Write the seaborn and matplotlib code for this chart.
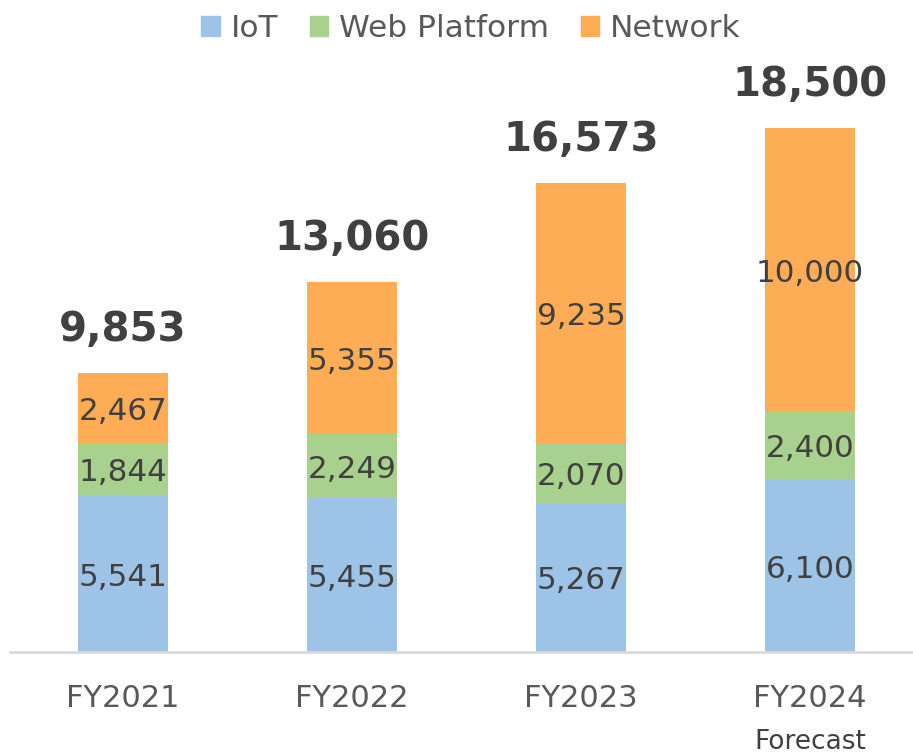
import pandas as pd
import matplotlib.pyplot as plt
import seaborn as sns
from matplotlib.patches import Patch

# --- data ---
years = ["FY2021", "FY2022", "FY2023", "FY2024"]
iot = [5541, 5455, 5267, 6100]
web = [1844, 2249, 2070, 2400]
network = [2467, 5355, 9235, 10000]
totals = [9853, 13060, 16573, 18500]

colors = {"IoT": "#9DC3E6", "Web Platform": "#A9D18E", "Network": "#FFAC56"}

df = pd.DataFrame({"year": years, "IoT": iot, "Web Platform": web, "Network": network})
df["cum_web"] = df["IoT"] + df["Web Platform"]
df["cum_net"] = df["cum_web"] + df["Network"]

sns.set_theme(style="white")
plt.rcParams["font.family"] = ["DejaVu Sans"]

fig = plt.figure(figsize=(9.13, 7.54), dpi=100)
ax = fig.add_axes([10 / 913, 102 / 754, 903 / 913, 592 / 754])

# stacked bars: draw cumulative heights from tallest to shortest
w = 0.393
sns.barplot(data=df, x="year", y="cum_net", color=colors["Network"], width=w,
            saturation=1, linewidth=0, ax=ax)
sns.barplot(data=df, x="year", y="cum_web", color=colors["Web Platform"], width=w,
            saturation=1, linewidth=0, ax=ax)
sns.barplot(data=df, x="year", y="IoT", color=colors["IoT"], width=w,
            saturation=1, linewidth=0, ax=ax)

# segment labels (centred in each segment, nudged a little down)
seg_col = "#404040"


def seg_label(x, y, val):
    ax.annotate(f"{val:,}", xy=(x, y), xytext=(0, -2.5), textcoords="offset points",
                ha="center", va="center", fontsize=22.3, color=seg_col)


for i, row in df.iterrows():
    seg_label(i, row["IoT"] / 2, row["IoT"])
    seg_label(i, row["IoT"] + row["Web Platform"] / 2, row["Web Platform"])
    seg_label(i, row["cum_web"] + row["Network"] / 2, row["Network"])
    ax.annotate(f"{totals[i]:,}", xy=(i, row["cum_net"]), xytext=(0, 31),
                textcoords="offset points", ha="center", va="center",
                fontsize=29, fontweight="bold", color=seg_col)

ax.set_xlim(-0.493, 3.45)
ax.set_ylim(0, 20904)
ax.set_xlabel("")
ax.set_ylabel("")
ax.set_yticks([])
ax.tick_params(axis="x", length=0, pad=23, labelsize=22, labelcolor="#595959")
for s in ["top", "left", "right"]:
    ax.spines[s].set_visible(False)
ax.spines["bottom"].set_color("#D9D9D9")
ax.spines["bottom"].set_linewidth(2)

ax.text(3, -0.152, "Forecast", transform=ax.get_xaxis_transform(), ha="center",
        va="center", fontsize=19, color="#404040")

handles = [Patch(color=colors[k]) for k in ["IoT", "Web Platform", "Network"]]
fig.legend(handles, ["IoT", "Web Platform", "Network"], loc="center",
           bbox_to_anchor=(0.516, 0.962), ncol=3, frameon=False, fontsize=22.5,
           labelcolor="#595959", handlelength=0.6, handleheight=0.6,
           handletextpad=0.35, columnspacing=1.0)

plt.savefig("out.png", dpi=100)
